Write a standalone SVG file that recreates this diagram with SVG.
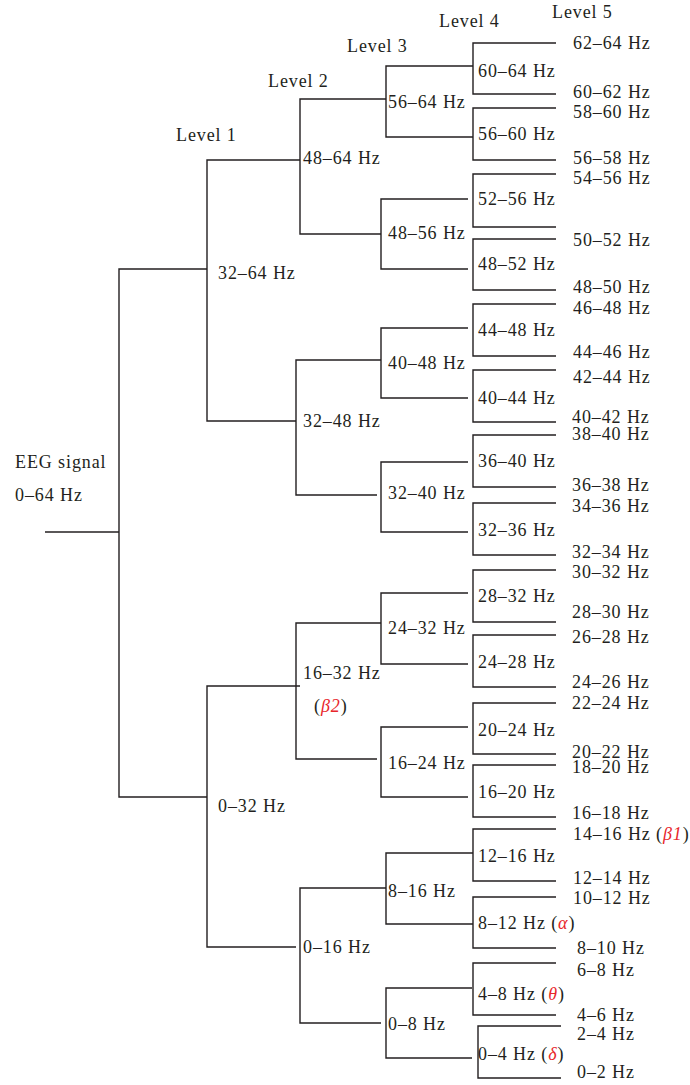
<svg xmlns="http://www.w3.org/2000/svg" width="690" height="1085" viewBox="0 0 690 1085">
<style>
text{font-family:"Liberation Serif","Times New Roman",serif;font-size:18px;fill:#231f20;letter-spacing:0.9px}
.g{fill:#e8262b;font-style:italic}
#connectors path{fill:none;stroke:#231f20;stroke-width:1.4}
</style>
<rect width="690" height="1085" fill="#fff"/>
<g id="connectors">
<path d="M45,532 H119"/>
<path d="M207,269 H119 V797 H207"/>
<path d="M300,160 H207 V421 H296"/>
<path d="M300,686 H207 V947 H296"/>
<path d="M386,99 H300 V234 H381"/>
<path d="M381,360 H296 V495 H377"/>
<path d="M381,623 H296 V759 H377"/>
<path d="M386,888 H300 V1023 H381"/>
<path d="M473,66 H386 V137 H473"/>
<path d="M468,199 H381 V269 H468"/>
<path d="M468,328 H381 V398 H468"/>
<path d="M468,462 H381 V532 H468"/>
<path d="M468,593 H381 V664 H468"/>
<path d="M468,727 H381 V797 H468"/>
<path d="M473,853 H386 V924 H473"/>
<path d="M472,988 H386 V1058 H472"/>
<path d="M556,43 H473 V94 H556"/>
<path d="M556,108 H473 V160 H556"/>
<path d="M556,174 H473 V227 H556"/>
<path d="M556,239 H473 V290 H556"/>
<path d="M556,304 H473 V356 H556"/>
<path d="M556,370 H473 V422 H556"/>
<path d="M556,435 H473 V487 H556"/>
<path d="M556,503 H473 V555 H556"/>
<path d="M556,570 H473 V622 H556"/>
<path d="M556,635 H473 V687 H556"/>
<path d="M556,703 H473 V754 H556"/>
<path d="M556,765 H473 V817 H556"/>
<path d="M556,829 H473 V881 H556"/>
<path d="M556,897 H473 V948 H556"/>
<path d="M556,963 H473 V1015 H556"/>
<path d="M561,1026 H478 V1078 H561"/>
</g>
<g id="level-labels">
<text x="176" y="141">Level 1</text>
<text x="268" y="87">Level 2</text>
<text x="347" y="52">Level 3</text>
<text x="439" y="27">Level 4</text>
<text x="552" y="18">Level 5</text>
</g>
<g id="root"><text x="15" y="468">EEG signal</text><text x="15" y="501">0–64 Hz</text></g>
<g id="n32-64"><text x="218" y="279">32–64 Hz</text></g>
<g id="n0-32"><text x="218" y="812">0–32 Hz</text></g>
<g id="n48-64"><text x="303" y="164">48–64 Hz</text></g>
<g id="n32-48"><text x="303" y="427">32–48 Hz</text></g>
<g id="n16-32"><text x="303" y="679">16–32 Hz</text><text x="314" y="712">(<tspan class="g">β</tspan><tspan class="g">2</tspan>)</text></g>
<g id="n0-16"><text x="303" y="953">0–16 Hz</text></g>
<g id="n56-64"><text x="388" y="108">56–64 Hz</text></g>
<g id="n48-56"><text x="388" y="239">48–56 Hz</text></g>
<g id="n40-48"><text x="388" y="369">40–48 Hz</text></g>
<g id="n32-40"><text x="388" y="499">32–40 Hz</text></g>
<g id="n24-32"><text x="388" y="634">24–32 Hz</text></g>
<g id="n16-24"><text x="388" y="769">16–24 Hz</text></g>
<g id="n8-16"><text x="388" y="897">8–16 Hz</text></g>
<g id="n0-8"><text x="388" y="1030">0–8 Hz</text></g>
<g id="n60-64"><text x="478" y="77">60–64 Hz</text></g>
<g id="n56-60"><text x="478" y="140">56–60 Hz</text></g>
<g id="n52-56"><text x="478" y="205">52–56 Hz</text></g>
<g id="n48-52"><text x="478" y="270">48–52 Hz</text></g>
<g id="n44-48"><text x="478" y="336">44–48 Hz</text></g>
<g id="n40-44"><text x="478" y="404">40–44 Hz</text></g>
<g id="n36-40"><text x="478" y="467">36–40 Hz</text></g>
<g id="n32-36"><text x="478" y="536">32–36 Hz</text></g>
<g id="n28-32"><text x="478" y="602">28–32 Hz</text></g>
<g id="n24-28"><text x="478" y="668">24–28 Hz</text></g>
<g id="n20-24"><text x="478" y="736">20–24 Hz</text></g>
<g id="n16-20"><text x="478" y="798">16–20 Hz</text></g>
<g id="n12-16"><text x="478" y="862">12–16 Hz</text></g>
<g id="n8-12"><text x="478" y="929">8–12 Hz (<tspan class="g">α</tspan>)</text></g>
<g id="n4-8"><text x="478" y="1000">4–8 Hz (<tspan class="g">θ</tspan>)</text></g>
<g id="n0-4"><text x="478" y="1060">0–4 Hz (<tspan class="g">δ</tspan>)</text></g>
<g id="n62-64"><text x="573" y="49">62–64 Hz</text></g>
<g id="n60-62"><text x="573" y="98">60–62 Hz</text></g>
<g id="n58-60"><text x="573" y="118">58–60 Hz</text></g>
<g id="n56-58"><text x="573" y="164">56–58 Hz</text></g>
<g id="n54-56"><text x="573" y="184">54–56 Hz</text></g>
<g id="n50-52"><text x="573" y="246">50–52 Hz</text></g>
<g id="n48-50"><text x="573" y="293">48–50 Hz</text></g>
<g id="n46-48"><text x="573" y="314">46–48 Hz</text></g>
<g id="n44-46"><text x="573" y="358">44–46 Hz</text></g>
<g id="n42-44"><text x="573" y="383">42–44 Hz</text></g>
<g id="n40-42"><text x="572" y="423">40–42 Hz</text></g>
<g id="n38-40"><text x="572" y="440">38–40 Hz</text></g>
<g id="n36-38"><text x="572" y="491">36–38 Hz</text></g>
<g id="n34-36"><text x="572" y="512">34–36 Hz</text></g>
<g id="n32-34"><text x="572" y="558">32–34 Hz</text></g>
<g id="n30-32"><text x="572" y="578">30–32 Hz</text></g>
<g id="n28-30"><text x="572" y="618">28–30 Hz</text></g>
<g id="n26-28"><text x="572" y="643">26–28 Hz</text></g>
<g id="n24-26"><text x="572" y="688">24–26 Hz</text></g>
<g id="n22-24"><text x="572" y="709">22–24 Hz</text></g>
<g id="n20-22"><text x="572" y="758">20–22 Hz</text></g>
<g id="n18-20"><text x="572" y="773">18–20 Hz</text></g>
<g id="n16-18"><text x="572" y="819">16–18 Hz</text></g>
<g id="n14-16"><text x="573" y="840">14–16 Hz (<tspan class="g">β</tspan><tspan class="g">1</tspan>)</text></g>
<g id="n12-14"><text x="573" y="884">12–14 Hz</text></g>
<g id="n10-12"><text x="573" y="904">10–12 Hz</text></g>
<g id="n8-10"><text x="577" y="954">8–10 Hz</text></g>
<g id="n6-8"><text x="577" y="976">6–8 Hz</text></g>
<g id="n4-6"><text x="577" y="1021">4–6 Hz</text></g>
<g id="n2-4"><text x="577" y="1040">2–4 Hz</text></g>
<g id="n0-2"><text x="577" y="1078">0–2 Hz</text></g>
</svg>
